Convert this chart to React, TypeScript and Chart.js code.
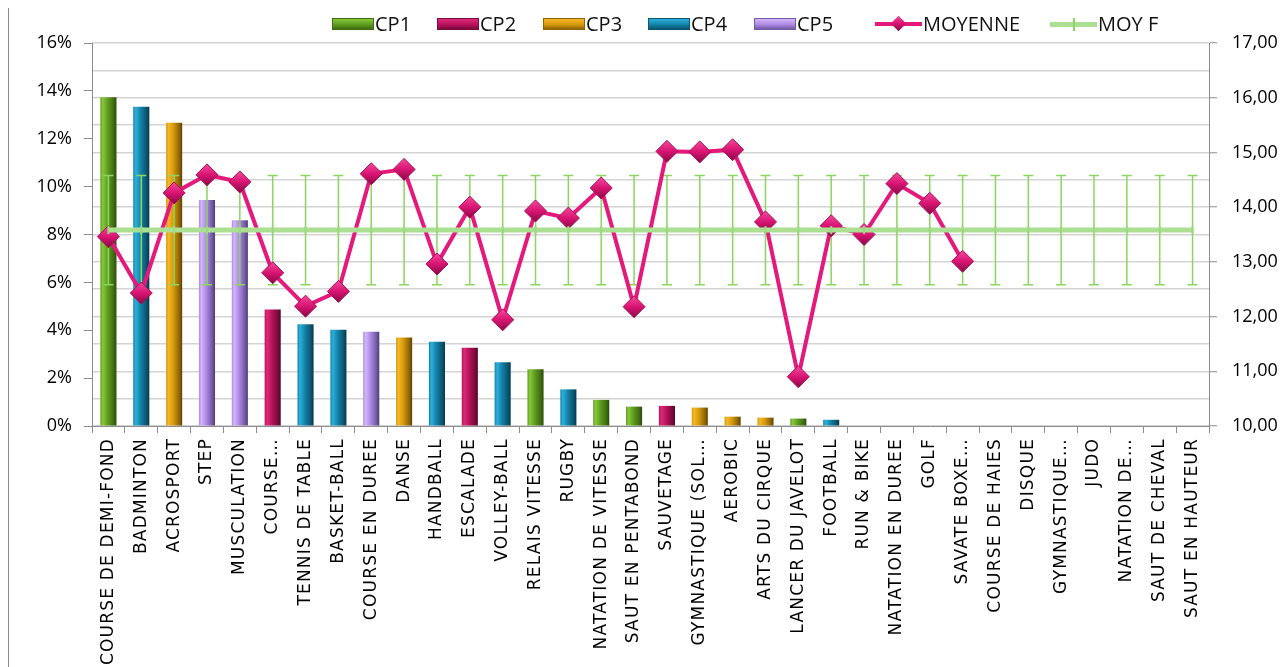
import React, { useEffect, useRef } from 'react';
import { Chart, registerables } from 'chart.js';

Chart.register(...registerables);

// ---- DATA ----
const categories = [
  'COURSE DE DEMI-FOND', 'BADMINTON', 'ACROSPORT', 'STEP', 'MUSCULATION', 'COURSE…',
  'TENNIS DE TABLE', 'BASKET-BALL', 'COURSE EN DUREE', 'DANSE', 'HANDBALL', 'ESCALADE',
  'VOLLEY-BALL', 'RELAIS VITESSE', 'RUGBY', 'NATATION DE VITESSE', 'SAUT EN PENTABOND',
  'SAUVETAGE', 'GYMNASTIQUE (SOL…', 'AEROBIC', 'ARTS DU CIRQUE', 'LANCER DU JAVELOT',
  'FOOTBALL', 'RUN & BIKE', 'NATATION EN DUREE', 'GOLF', 'SAVATE BOXE…', 'COURSE DE HAIES',
  'DISQUE', 'GYMNASTIQUE…', 'JUDO', 'NATATION DE…', 'SAUT DE CHEVAL', 'SAUT EN HAUTEUR',
];

// share of students per activity (%), left axis
const shares = [
  13.73, 13.34, 12.67, 9.44, 8.6, 4.87, 4.25, 4.02, 3.94, 3.7, 3.52, 3.27,
  2.66, 2.37, 1.53, 1.09, 0.81, 0.84, 0.77, 0.39, 0.35, 0.31, 0.26,
  null, null, null, null, null, null, null, null, null, null, null,
];

// competence group (CP1..CP5) of each activity
const cpGroup = [
  1, 4, 3, 5, 5, 2, 4, 4, 5, 3, 4, 2,
  4, 1, 4, 1, 1, 2, 3, 3, 3, 1, 4,
  null, null, null, null, null, null, null, null, null, null, null,
];

// average mark (right axis)
const moyenne = [
  13.46, 12.43, 14.26, 14.59, 14.46, 12.8, 12.19, 12.46, 14.61, 14.69, 12.96, 14.0,
  11.94, 13.93, 13.8, 14.35, 12.18, 15.02, 15.01, 15.05, 13.73, 10.9, 13.66, 13.5,
  14.43, 14.07, 13.01, null, null, null, null, null, null, null,
];

const moyF = 13.58;      // overall average
const moyFError = 1.0;   // +/- error bar

const seriesNames = ['CP1', 'CP2', 'CP3', 'CP4', 'CP5'];
const leftTicks = { min: 0, max: 16, step: 2 };
const rightTicks = { min: 10, max: 17, step: 0.5 };

// ---- STYLES ----
const CP_COLORS = [
  { light: '#86c83a', base: '#5f9c20', dark: '#3f6d12', darkest: '#2a4c0a' },
  { light: '#dc2a78', base: '#b9125d', dark: '#7a0a3b', darkest: '#55062a' },
  { light: '#f4b72a', base: '#d69a0c', dark: '#8e6406', darkest: '#5f4304' },
  { light: '#2bb0dc', base: '#1483a9', dark: '#0b5570', darkest: '#073a4c' },
  { light: '#d3b6f9', base: '#ad8ae3', dark: '#735aa6', darkest: '#4f3d75' },
];
const PINK = '#E5197C';
const LIGHT_GREEN = '#ABE093';
const ERR_GREEN = '#8bd65e';
const AXIS = '#8c8c8c';

const barFill = (k: number) => (ctx: any) => {
  const c = CP_COLORS[k - 1];
  try {
    const chart = ctx.chart;
    const xs = chart.scales && chart.scales.x;
    if (ctx.type !== 'data' || !xs) return c.base;
    const cx = xs.getPixelForValue(ctx.dataIndex);
    if (!Number.isFinite(cx)) return c.base;
    const g = chart.ctx.createLinearGradient(cx - 8, 0, cx + 8, 0);
    g.addColorStop(0, c.base);
    g.addColorStop(0.15, c.light);
    g.addColorStop(0.45, c.base);
    g.addColorStop(0.82, c.dark);
    g.addColorStop(1, c.darkest);
    return g;
  } catch (e) {
    return c.base;
  }
};

const diamondFill = (ctx: any) => {
  try {
    const chart = ctx.chart;
    const ys = chart.scales && chart.scales.y1;
    if (ctx.type !== 'data' || !ys) return PINK;
    const v = moyenne[ctx.dataIndex];
    if (v == null) return PINK;
    const y = ys.getPixelForValue(v);
    if (!Number.isFinite(y)) return PINK;
    const g = chart.ctx.createLinearGradient(0, y - 11, 0, y + 11);
    g.addColorStop(0, '#f24a9c');
    g.addColorStop(0.5, '#d91473');
    g.addColorStop(1, '#860944');
    return g;
  } catch (e) {
    return PINK;
  }
};

const errorBarPlugin = {
  id: 'errorBars',
  beforeDatasetDraw(chart: any, args: any) {
    if (args.index !== 5) return;
    const xs = chart.scales.x;
    const ys = chart.scales.y1;
    const c = chart.ctx;
    c.save();
    c.strokeStyle = ERR_GREEN;
    c.lineWidth = 1.5;
    categories.forEach((_, i) => {
      const x = xs.getPixelForValue(i);
      const yt = ys.getPixelForValue(moyF + moyFError);
      const yb = ys.getPixelForValue(moyF - moyFError);
      c.beginPath();
      c.moveTo(x, yt);
      c.lineTo(x, yb);
      c.moveTo(x - 5, yt);
      c.lineTo(x + 5, yt);
      c.moveTo(x - 5, yb);
      c.lineTo(x + 5, yb);
      c.stroke();
    });
    c.restore();
  },
};

const letterSpacingPlugin = {
  id: 'xLetterSpacing',
  beforeDraw(chart: any) {
    const xs = chart.scales.x;
    if (xs && !xs.__ls) {
      const orig = xs.drawLabels;
      xs.drawLabels = function (area: any) {
        const c = this.ctx;
        c.save();
        (c as any).letterSpacing = '1.2px';
        orig.call(this, area);
        c.restore();
      };
      xs.__ls = true;
    }
  },
};

const CANVAS_W = 1277;
const CANVAS_H = 720;

function LegendBox({ k }: { k: number }) {
  const c = CP_COLORS[k - 1];
  return (
    <div
      style={{
        width: 40,
        height: 10,
        border: `1px solid ${c.dark}`,
        background: `linear-gradient(to bottom, ${c.light} 0%, ${c.base} 55%, ${c.dark} 100%)`,
        boxSizing: 'content-box',
      }}
    />
  );
}

export default function App() {
  const ref = useRef<HTMLCanvasElement | null>(null);

  useEffect(() => {
    document.body.style.overflow = 'hidden';
    if (!ref.current) return;
    const barSets = seriesNames.map((name, idx) => ({
      type: 'bar' as const,
      label: name,
      data: shares.map((v, i) => (cpGroup[i] === idx + 1 ? v : null)),
      yAxisID: 'y',
      order: 3,
      backgroundColor: barFill(idx + 1),
      borderWidth: 0,
      categoryPercentage: 1,
      barPercentage: 0.49,
      skipNull: true,
    }));

    const chart = new Chart(ref.current, {
      type: 'bar',
      data: {
        labels: categories,
        datasets: [
          ...barSets,
          {
            type: 'line',
            label: 'MOYENNE',
            data: moyenne,
            yAxisID: 'y1',
            order: 2,
            borderColor: PINK,
            borderWidth: 4,
            pointStyle: 'rectRot',
            pointRadius: 11,
            pointHoverRadius: 11,
            pointBackgroundColor: diamondFill,
            pointBorderColor: '#a80e58',
            pointBorderWidth: 1,
            tension: 0,
            spanGaps: false,
          },
          {
            type: 'line',
            label: 'MOY F',
            data: categories.map(() => moyF),
            yAxisID: 'y1',
            order: 1,
            borderColor: LIGHT_GREEN,
            borderWidth: 5,
            pointStyle: 'line',
            pointRotation: 90,
            pointRadius: 4,
            pointHoverRadius: 4,
            pointBorderColor: '#9cd97f',
            pointBorderWidth: 2,
          },
        ] as any,
      },
      options: {
        responsive: false,
        animation: false,
        devicePixelRatio: 1,
        layout: { padding: { top: 35, left: 0, right: 0, bottom: 0 } },
        plugins: {
          legend: { display: false },
          title: { display: false },
          tooltip: { enabled: false },
        },
        scales: {
          x: {
            type: 'category',
            offset: true,
            grid: {
              offset: true,
              drawOnChartArea: false,
              drawTicks: true,
              tickLength: 7,
              color: AXIS,
            },
            border: { color: AXIS, width: 1 },
            ticks: {
              autoSkip: false,
              minRotation: 90,
              maxRotation: 90,
              padding: 5,
              color: '#000',
              font: { family: '"DejaVu Sans"', size: 17 },
            },
            afterFit: (s: any) => {
              s.height = CANVAS_H - 418;
            },
          },
          y: {
            position: 'left',
            min: leftTicks.min,
            max: leftTicks.max,
            ticks: {
              stepSize: leftTicks.step,
              callback: (v: any) => `${v}%`,
              padding: 12,
              color: '#000',
              font: { family: '"Open Sans"', size: 18 },
            },
            grid: { drawOnChartArea: false, tickLength: 8, color: AXIS },
            border: { color: AXIS, width: 1 },
            afterFit: (s: any) => {
              s.width = 84;
            },
          },
          y1: {
            position: 'right',
            min: rightTicks.min,
            max: rightTicks.max,
            ticks: {
              stepSize: rightTicks.step,
              callback: (v: any) =>
                Math.abs(v - Math.round(v)) < 1e-6 ? Number(v).toFixed(2).replace('.', ',') : '',
              padding: 15,
              color: '#000',
              font: { family: '"Open Sans"', size: 18 },
            },
            grid: {
              color: '#d4d4d4',
              lineWidth: 1.5,
              tickLength: 8,
              tickWidth: 1,
              tickColor: (ctx: any) =>
                ctx.tick && Math.abs(ctx.tick.value - Math.round(ctx.tick.value)) < 1e-6
                  ? AXIS
                  : 'rgba(0,0,0,0)',
            },
            border: { color: AXIS, width: 1 },
            afterFit: (s: any) => {
              s.width = CANVAS_W - 1201;
            },
          },
        },
      } as any,
      plugins: [errorBarPlugin, letterSpacingPlugin],
    });
    return () => chart.destroy();
  }, []);

  const legendFont = '20px "Open Sans", sans-serif';
  const itemStyle = (left: number): React.CSSProperties => ({
    position: 'absolute',
    left: left - 8,
    top: 2,
    height: 27,
    display: 'flex',
    alignItems: 'center',
    font: legendFont,
    color: '#111',
    whiteSpace: 'nowrap',
  });
  const cpLefts = [332, 437, 543, 648, 754];

  return (
    <div
      style={{
        position: 'relative',
        width: CANVAS_W,
        height: 659,
        overflow: 'hidden',
        background: '#fff',
      }}
    >
      <canvas
        ref={ref}
        width={CANVAS_W}
        height={CANVAS_H}
        style={{ position: 'absolute', left: 0, top: 0, width: CANVAS_W, height: CANVAS_H }}
      />
      <div style={{ position: 'absolute', left: 0, top: 0, width: 1, height: '100%', background: '#8a8a8a' }} />
      {seriesNames.map((name, i) => (
        <div key={name} style={itemStyle(cpLefts[i])}>
          <LegendBox k={i + 1} />
          <span style={{ marginLeft: 1 }}>{name}</span>
        </div>
      ))}
      <div style={itemStyle(875)}>
        <div style={{ position: 'relative', width: 47, height: 24 }}>
          <div style={{ position: 'absolute', left: 0, top: 10, width: 47, height: 4, background: PINK }} />
          <div
            style={{
              position: 'absolute',
              left: 18,
              top: 6,
              width: 11,
              height: 11,
              transform: 'rotate(45deg)',
              background: 'linear-gradient(135deg, #f24a9c 0%, #d91473 50%, #860944 100%)',
            }}
          />
        </div>
        <span style={{ marginLeft: 1 }}>MOYENNE</span>
      </div>
      <div style={itemStyle(1050)}>
        <div style={{ position: 'relative', width: 47, height: 24 }}>
          <div style={{ position: 'absolute', left: 0, top: 10, width: 47, height: 5, background: LIGHT_GREEN }} />
          <div style={{ position: 'absolute', left: 23, top: 6, width: 1.5, height: 13, background: ERR_GREEN }} />
        </div>
        <span style={{ marginLeft: 1 }}>MOY F</span>
      </div>
    </div>
  );
}
